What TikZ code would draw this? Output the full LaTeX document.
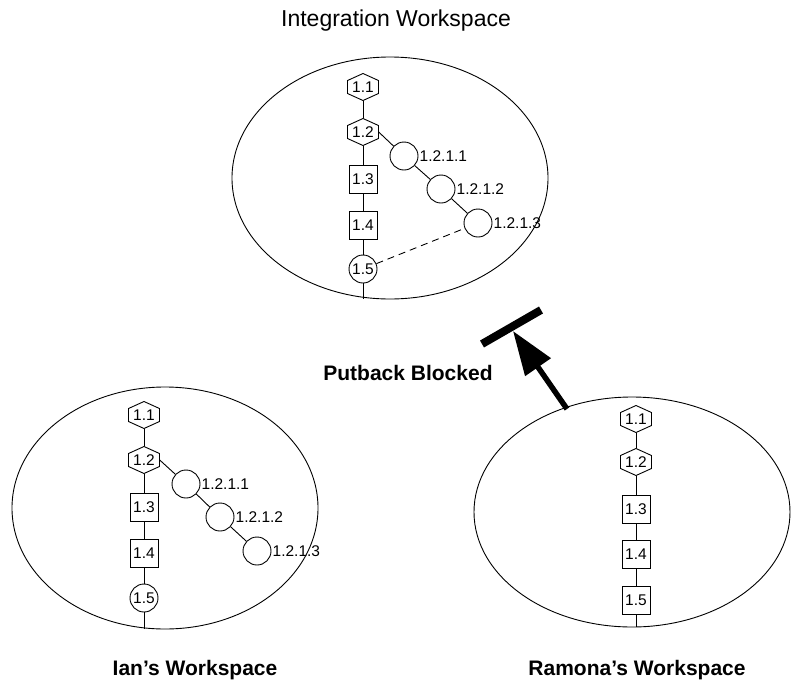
\documentclass[tikz,border=0pt]{standalone}
\usepackage{fontspec}
\setmainfont{Liberation Sans}
\usetikzlibrary{arrows.meta}
\tikzset{
  lblfont/.style={font=\fontsize{15.5}{17}\selectfont},
  lbl/.style={lblfont, inner sep=0pt},
  hexbox/.style={lblfont, minimum width=31pt, minimum height=27pt, inner sep=0pt},
  sqbox/.style={lblfont, draw, line width=0.9pt, minimum width=28pt, minimum height=28pt, inner sep=0pt},
  vcirc/.style={lblfont, draw, circle, line width=0.9pt, minimum size=28pt, inner sep=0pt},
  ecirc/.style={draw, circle, line width=0.9pt, minimum size=28pt, inner sep=0pt},
  edge/.style={line width=0.9pt},
  ws/.style={line width=0.9pt},
  title/.style={font=\fontsize{23}{25}\selectfont},
  btitle/.style={font=\bfseries\fontsize{21}{23}\selectfont},
}
\newcommand{\hexat}[4]{%
  \node[hexbox] (#1) at (#2,#3) {#4};
  \draw[line width=0.9pt] (#2,#3-13.5) -- (#2+15.5,#3-6.5) -- (#2+15.5,#3+6.5) -- (#2,#3+13.5) -- (#2-15.5,#3+6.5) -- (#2-15.5,#3-6.5) -- cycle;
}
\begin{document}
\begin{tikzpicture}[x=1pt,y=-1pt]
\useasboundingbox (0,0) rectangle (793,689);

% ---------- Integration workspace ----------
\node[title] (ti) at (396,21) {Integration Workspace};
\draw[ws] (390,178) ellipse (158 and 121);
\hexat{a11}{363}{87}{1.1}
\hexat{a12}{363}{132}{1.2}
\node[sqbox] (a13) at (363,179) {1.3};
\node[sqbox] (a14) at (363,225) {1.4};
\node[vcirc] (a15) at (363,269) {1.5};
\coordinate (aend) at (363,299);
\node[ecirc] (a1211) at (404,156) {};
\node[ecirc] (a1212) at (441,189) {};
\node[ecirc] (a1213) at (478,223) {};
\node[lbl, anchor=west] at ([xshift=1pt]a1211.east) {1.2.1.1};
\node[lbl, anchor=west] at ([xshift=1pt]a1212.east) {1.2.1.2};
\node[lbl, anchor=west] at ([xshift=1pt]a1213.east) {1.2.1.3};
\draw[edge] (a11) -- (a12);
\draw[edge] (a12) -- (a13);
\draw[edge] (a13) -- (a14);
\draw[edge] (a14) -- (a15);
\draw[edge] (a15) -- (aend);
\draw[edge] (a12.east) -- (a1211);
\draw[edge] (a1211) -- (a1212);
\draw[edge] (a1212) -- (a1213);
\draw[edge, dash pattern=on 7pt off 5pt] (a15) -- (a1213);

% ---------- Ian's workspace ----------
\draw[ws] (165,508) ellipse (153 and 121);
\hexat{b11}{144}{415}{1.1}
\hexat{b12}{144}{460}{1.2}
\node[sqbox] (b13) at (144,507) {1.3};
\node[sqbox] (b14) at (144,553) {1.4};
\node[vcirc] (b15) at (144,598) {1.5};
\coordinate (bend) at (144,629);
\node[ecirc] (b1211) at (186,484) {};
\node[ecirc] (b1212) at (220,517) {};
\node[ecirc] (b1213) at (257,551) {};
\node[lbl, anchor=west] at ([xshift=1pt]b1211.east) {1.2.1.1};
\node[lbl, anchor=west] at ([xshift=1pt]b1212.east) {1.2.1.2};
\node[lbl, anchor=west] at ([xshift=1pt]b1213.east) {1.2.1.3};
\draw[edge] (b11) -- (b12);
\draw[edge] (b12) -- (b13);
\draw[edge] (b13) -- (b14);
\draw[edge] (b14) -- (b15);
\draw[edge] (b15) -- (bend);
\draw[edge] (b12.east) -- (b1211);
\draw[edge] (b1211) -- (b1212);
\draw[edge] (b1212) -- (b1213);
\node[btitle] (tian) at (195,670) {Ian’s Workspace};

% ---------- Ramona's workspace ----------
\draw[ws] (632,512) ellipse (158 and 115);
\hexat{c11}{636}{419}{1.1}
\hexat{c12}{636}{462}{1.2}
\node[sqbox] (c13) at (636,509) {1.3};
\node[sqbox] (c14) at (636,554) {1.4};
\node[sqbox] (c15) at (636,600) {1.5};
\coordinate (cend) at (636,627);
\draw[edge] (c11) -- (c12);
\draw[edge] (c12) -- (c13);
\draw[edge] (c13) -- (c14);
\draw[edge] (c14) -- (c15);
\draw[edge] (c15) -- (cend);
\node[btitle] (tram) at (637,670) {Ramona’s Workspace};

% ---------- blocked putback ----------
\node[btitle] (tpb) at (408,373) {Putback Blocked};
\coordinate (astart) at (567,409);
\coordinate (atip) at (513,331);
\coordinate (bar1) at (482,344);
\coordinate (bar2) at (541,310);
\draw[line width=8pt] (bar1) -- (bar2);
\draw[line width=5.5pt, -{Triangle[length=44pt, width=30pt]}] (astart) -- (atip);
\end{tikzpicture}
\end{document}
